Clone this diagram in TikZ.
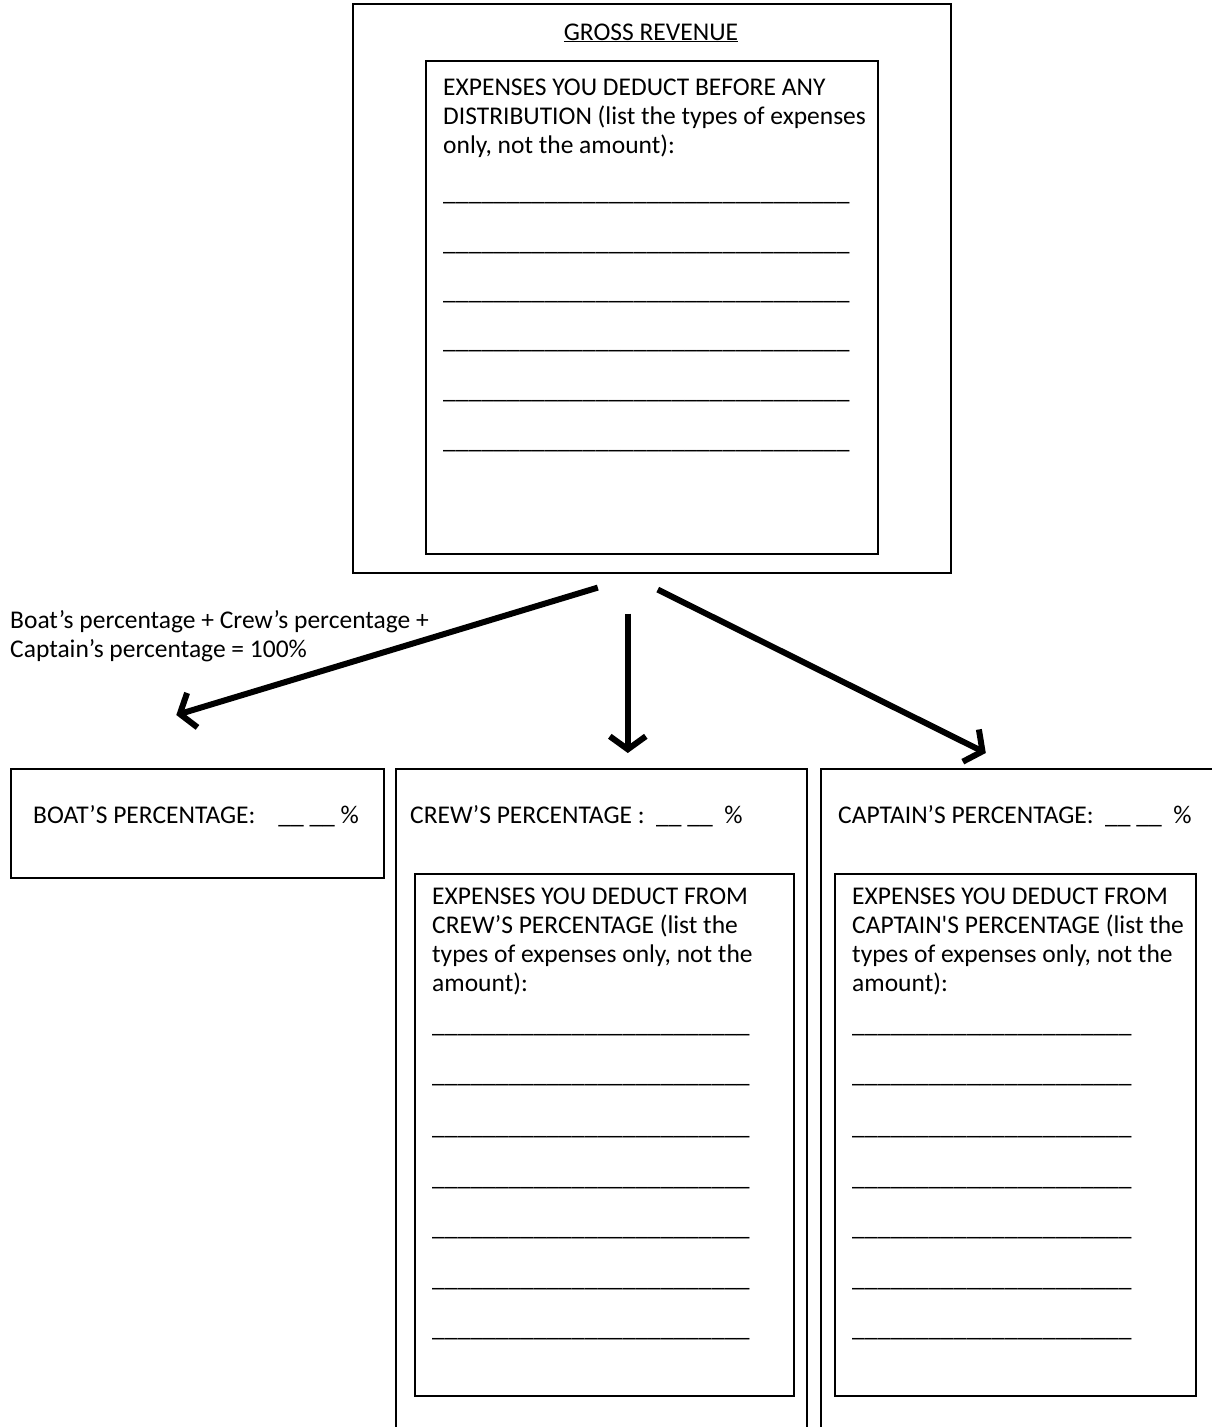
\documentclass[tikz,border=0pt]{standalone}
\usepackage{fontspec}
\setmainfont{Carlito}
\usetikzlibrary{arrows.meta}

\tikzset{
  frame/.style={draw, line width=1.6pt, anchor=north west, inner sep=0pt},
  txt/.style={anchor=base west, inner sep=0pt, align=left},
  arr/.style={line width=6pt, -{Straight Barb[length=13pt,width=36pt]}},
}
\newcommand{\blanks}[1]{\foreach \k in {1,...,#1}{\_}}

\begin{document}
\begin{tikzpicture}[x=1pt, y=-1pt, font=\fontsize{25.5}{29}\selectfont]
        \clip (0,0) rectangle (1212,1427);
        % boxes
        \node[frame, minimum width=598pt, minimum height=569pt] (revenue) at (352,3) {};
        \node[frame, minimum width=452pt, minimum height=493pt] (deduct) at (425,60) {};
        \node[frame, minimum width=373pt, minimum height=109pt] (boat) at (10,768) {};
        \node[frame, minimum width=411pt, minimum height=700pt] (crew) at (395,768) {};
        \node[frame, minimum width=379pt, minimum height=522pt] (crewexp) at (414,873) {};
        \node[frame, minimum width=420pt, minimum height=700pt] (captain) at (820,768) {};
        \node[frame, minimum width=361pt, minimum height=522pt] (captexp) at (834,873) {};

        % texts (base = last line)
        \node[txt, anchor=base] (title) at (651,40) {\underline{GROSS REVENUE}};
        \node[txt] (dtext) at (443,153) {EXPENSES YOU DEDUCT BEFORE ANY\\DISTRIBUTION (list the types of expenses\\only, not the amount):};
        \node[txt] (note) at (10,657) {Boat’s percentage + Crew’s percentage +\\Captain’s percentage = 100\%};
        \node[txt] (boatlbl) at (33,823) {BOAT’S PERCENTAGE:\hspace{0.9em}\_\_ \_\_ \%};
        \node[txt] (crewlbl) at (410,823) {CREW’S PERCENTAGE :\ \ \_\_ \_\_\ \ \%};
        \node[txt] (captlbl) at (838,823) {CAPTAIN’S PERCENTAGE:\ \ \_\_ \_\_\ \ \%};
        \node[txt] (crewtext) at (432,991) {EXPENSES YOU DEDUCT FROM\\CREW’S PERCENTAGE (list the\\types of expenses only, not the\\amount):};
        \node[txt] (capttext) at (852,991) {EXPENSES YOU DEDUCT FROM\\CAPTAIN\textquotesingle S PERCENTAGE (list the\\types of expenses only, not the\\amount):};

        % blank lines
        \foreach \y [count=\i] in {200,250,299,348,398,448}
          \node[txt] (dblank\i) at (443,\y) {\blanks{32}};
        \foreach \y [count=\i] in {1032,1082,1134,1185,1235,1286,1336} {
          \node[txt] (crewblank\i) at (432,\y) {\blanks{25}};
          \node[txt] (captblank\i) at (852,\y) {\blanks{22}};
        }

        % arrows
        \coordinate (lfrom) at ([shift={(-54,14)}]revenue.south);
        \coordinate (lto) at ([shift={(-21,-53)}]boat.north);
        \coordinate (mfrom) at ([shift={(-24,40)}]revenue.south);
        \coordinate (mto) at ([shift={(26.5,-15)}]crew.north);
        \coordinate (rfrom) at ([shift={(6,16)}]revenue.south);
        \coordinate (rto) at ([shift={(-45,-15)}]captain.north);

        \draw[arr] (lfrom) -- (lto);
        \draw[arr] (mfrom) -- (mto);
        \draw[arr] (rfrom) -- (rto);
    \end{tikzpicture}
\end{document}
